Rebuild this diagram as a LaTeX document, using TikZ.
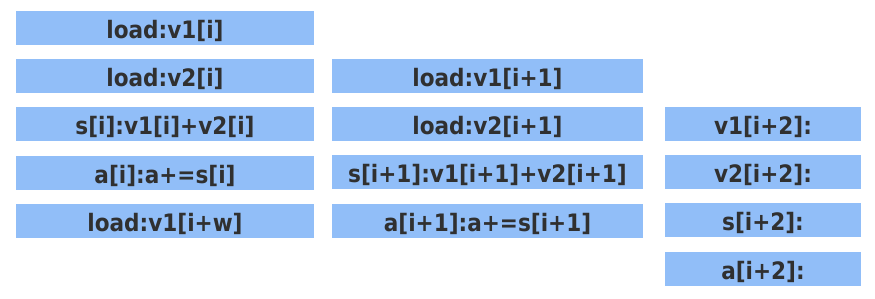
\documentclass[tikz,border=0pt]{standalone}
\usepackage{fontspec}
\setsansfont{DejaVu Sans Condensed}
\usepackage{tikz}
\usetikzlibrary{positioning}
\definecolor{slotblue}{RGB}{145,190,248}
\definecolor{slottext}{RGB}{48,48,48}

\begin{document}
\begin{tikzpicture}[x=1pt,y=1pt,
    node distance=13.8pt,
    slot/.style={fill=slotblue, text=slottext, minimum height=34pt,
      inner sep=0pt, text height=23pt, text depth=2pt,
      font=\sffamily\bfseries\fontsize{24}{28}\selectfont},
    iterA/.style={slot, minimum width=298pt},
    iterB/.style={slot, minimum width=311pt},
    iterC/.style={slot, minimum width=196pt}
  ]
    \useasboundingbox (0,0) rectangle (875,-299);

    % iteration i
    \node[iterA] (a1) at (165,-28) {load:v1[i]};
    \node[iterA, below=of a1] (a2) {load:v2[i]};
    \node[iterA, below=of a2] (a3) {s[i]:v1[i]+v2[i]};
    \node[iterA, below=of a3] (a4) {a[i]:a+=s[i]};
    \node[iterA, below=of a4] (a5) {load:v1[i+w]};

    % iteration i+1
    \node[iterB] (b1) at (487.5,-76) {load:v1[i+1]};
    \node[iterB, below=of b1] (b2) {load:v2[i+1]};
    \node[iterB, below=of b2] (b3) {s[i+1]:v1[i+1]+v2[i+1]};
    \node[iterB, below=of b3] (b4) {a[i+1]:a+=s[i+1]};

    % iteration i+2
    \node[iterC] (c1) at (763,-124) {v1[i+2]:};
    \node[iterC, below=of c1] (c2) {v2[i+2]:};
    \node[iterC, below=of c2] (c3) {s[i+2]:};
    \node[iterC, below=of c3] (c4) {a[i+2]:};
\end{tikzpicture}
\end{document}
